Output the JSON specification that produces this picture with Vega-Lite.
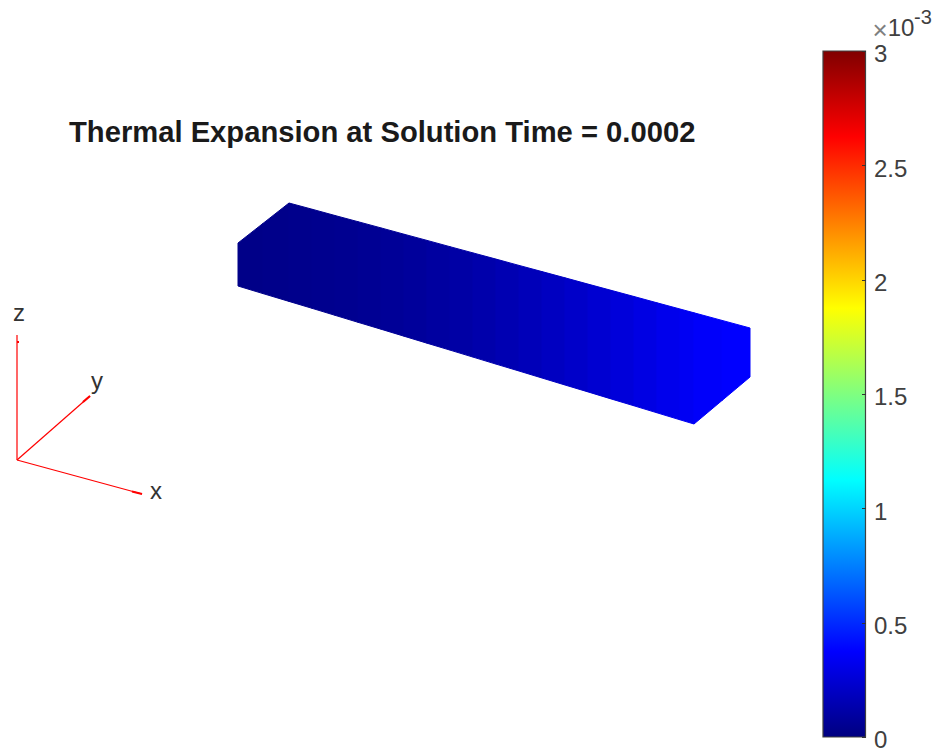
{
"$schema":"https://vega.github.io/schema/vega-lite/v6.json",
"width":933,"height":749,"padding":0,"autosize":{"type":"none"},
"background":"white",
"view":{"stroke":null},
"config":{"font":"Liberation Sans"},
"title":{"text":"Thermal Expansion at Solution Time = 0.0002","anchor":"start","frame":"group","dx":69,"dy":171,"offset":0,"baseline":"alphabetic","font":"Liberation Sans","fontSize":29.2,"fontWeight":"bold","color":"#1a1a1a"},
"datasets":{
"body":[
{"s":1,"x":238,"top":243,"bot":286,"u":0.024},{"s":1,"x":263,"top":223.4,"bot":293.6,"u":0.024},
{"s":2,"x":263,"top":223.4,"bot":293.6,"u":0.03},{"s":2,"x":289,"top":203,"bot":301.4,"u":0.03},
{"s":3,"x":289,"top":203,"bot":301.4,"u":0.035},{"s":3,"x":312,"top":209.2,"bot":308.3,"u":0.035},
{"s":4,"x":312,"top":209.2,"bot":308.3,"u":0.041},{"s":4,"x":335,"top":215.5,"bot":315.3,"u":0.041},
{"s":5,"x":335,"top":215.5,"bot":315.3,"u":0.047},{"s":5,"x":358,"top":221.7,"bot":322.3,"u":0.047},
{"s":6,"x":358,"top":221.7,"bot":322.3,"u":0.056},{"s":6,"x":381,"top":227.9,"bot":329.2,"u":0.056},
{"s":7,"x":381,"top":227.9,"bot":329.2,"u":0.068},{"s":7,"x":404,"top":234.2,"bot":336.2,"u":0.068},
{"s":8,"x":404,"top":234.2,"bot":336.2,"u":0.08},{"s":8,"x":427,"top":240.4,"bot":343.2,"u":0.08},
{"s":9,"x":427,"top":240.4,"bot":343.2,"u":0.094},{"s":9,"x":450,"top":246.7,"bot":350.1,"u":0.094},
{"s":10,"x":450,"top":246.7,"bot":350.1,"u":0.109},{"s":10,"x":473,"top":252.9,"bot":357.1,"u":0.109},
{"s":11,"x":473,"top":252.9,"bot":357.1,"u":0.127},{"s":11,"x":496,"top":259.1,"bot":364.1,"u":0.127},
{"s":12,"x":496,"top":259.1,"bot":364.1,"u":0.148},{"s":12,"x":519,"top":265.4,"bot":371,"u":0.148},
{"s":13,"x":519,"top":265.4,"bot":371,"u":0.168},{"s":13,"x":542,"top":271.6,"bot":378,"u":0.168},
{"s":14,"x":542,"top":271.6,"bot":378,"u":0.192},{"s":14,"x":565,"top":277.8,"bot":385,"u":0.192},
{"s":15,"x":565,"top":277.8,"bot":385,"u":0.216},{"s":15,"x":588,"top":284.1,"bot":391.9,"u":0.216},
{"s":16,"x":588,"top":284.1,"bot":391.9,"u":0.239},{"s":16,"x":611,"top":290.3,"bot":398.9,"u":0.239},
{"s":17,"x":611,"top":290.3,"bot":398.9,"u":0.266},{"s":17,"x":634,"top":296.5,"bot":405.8,"u":0.266},
{"s":18,"x":634,"top":296.5,"bot":405.8,"u":0.292},{"s":18,"x":657,"top":302.8,"bot":412.8,"u":0.292},
{"s":19,"x":657,"top":302.8,"bot":412.8,"u":0.319},{"s":19,"x":680,"top":309,"bot":419.8,"u":0.319},
{"s":20,"x":680,"top":309,"bot":419.8,"u":0.34},{"s":20,"x":694,"top":312.8,"bot":424,"u":0.34},
{"s":21,"x":694,"top":312.8,"bot":424,"u":0.36},{"s":21,"x":722,"top":320.4,"bot":400.5,"u":0.36},
{"s":22,"x":722,"top":320.4,"bot":400.5,"u":0.375},{"s":22,"x":750,"top":328,"bot":377,"u":0.375}
]
},
"resolve":{"scale":{"y":"independent"}},
"layer":[
{"data":{"name":"body"},
 "mark":{"type":"area","strokeWidth":1,"interpolate":"linear"},
 "encoding":{
  "x":{"field":"x","type":"quantitative","axis":null,"scale":{"domain":[0,933],"nice":false,"zero":false}},
  "y":{"field":"top","type":"quantitative","axis":null,"scale":{"domain":[749,0],"nice":false,"zero":false}},
  "y2":{"field":"bot"},
  "detail":{"field":"s","type":"nominal"},
  "fill":{"field":"u","type":"quantitative","legend":null,"scale":{"domain":[0,0.375,1.125,1.875,2.625,3],"range":["#000080","#0000ff","#00ffff","#ffff00","#ff0000","#800000"],"interpolate":"rgb"}},
  "stroke":{"field":"u","type":"quantitative","legend":null,"scale":{"domain":[0,0.375,1.125,1.875,2.625,3],"range":["#000080","#0000ff","#00ffff","#ffff00","#ff0000","#800000"],"interpolate":"rgb"}}
 }},
{"data":{"values":[
  {"a":"x","x0":17,"y0":460,"x1":142,"y1":494},
  {"a":"y","x0":17,"y0":460,"x1":90,"y1":396},
  {"a":"z","x0":17,"y0":460,"x1":17,"y1":335}]},
 "mark":{"type":"rule","color":"#ff0000","strokeWidth":1.2},
 "encoding":{
  "x":{"field":"x0","type":"quantitative","axis":null,"scale":{"domain":[0,933],"nice":false,"zero":false}},
  "y":{"field":"y0","type":"quantitative","axis":null,"scale":{"domain":[749,0],"nice":false,"zero":false}},
  "x2":{"field":"x1"},"y2":{"field":"y1"}}},
{"data":{"values":[
  {"a":"x","x0":132,"y0":491.5,"x1":142,"y1":494},
  {"a":"y","x0":83,"y0":402,"x1":90,"y1":396},
  {"a":"z","x0":17,"y0":342,"x1":19,"y1":342}]},
 "mark":{"type":"rule","color":"#ff0000","strokeWidth":2.2},
 "encoding":{
  "x":{"field":"x0","type":"quantitative","axis":null,"scale":{"domain":[0,933],"nice":false,"zero":false}},
  "y":{"field":"y0","type":"quantitative","axis":null,"scale":{"domain":[749,0],"nice":false,"zero":false}},
  "x2":{"field":"x1"},"y2":{"field":"y1"}}},
{"data":{"values":[
  {"t":"z","x":19,"y":314},{"t":"y","x":97,"y":382},{"t":"x","x":156,"y":492}]},
 "mark":{"type":"text","fontSize":24,"color":"#333333","baseline":"middle","align":"center","font":"Liberation Sans"},
 "encoding":{
  "x":{"field":"x","type":"quantitative","axis":null,"scale":{"domain":[0,933],"nice":false,"zero":false}},
  "y":{"field":"y","type":"quantitative","axis":null,"scale":{"domain":[749,0],"nice":false,"zero":false}},
  "text":{"field":"t"}}},
{"data":{"values":[{"v0":0,"v1":3}]},
 "mark":{"type":"rect","stroke":"#404040","strokeWidth":1.2,
  "fill":{"gradient":"linear","x1":0,"y1":1,"x2":0,"y2":0,"stops":[
   {"offset":0,"color":"#000080"},{"offset":0.125,"color":"#0000ff"},{"offset":0.375,"color":"#00ffff"},{"offset":0.625,"color":"#ffff00"},{"offset":0.875,"color":"#ff0000"},{"offset":1,"color":"#800000"}]}},
 "encoding":{
  "x":{"datum":823,"type":"quantitative","axis":null,"scale":{"domain":[0,933],"nice":false,"zero":false}},
  "x2":{"datum":865.5},
  "y":{"field":"v0","type":"quantitative","scale":{"domain":[-0.0525,3.223],"nice":false,"zero":false},
   "axis":{"orient":"right","offset":-67.5,"title":null,"values":[0,0.5,1,1.5,2,2.5,3],"format":"~r","domain":false,"grid":false,"tickSize":-4,"tickColor":"#333333","tickWidth":1,"labelFontSize":24,"labelColor":"#404040","labelPadding":12,"labelOffset":4,"labelFlush":false,"labelOverlap":false,"labelFont":"Liberation Sans","zindex":1}},
  "y2":{"field":"v1"}}},
{"data":{"values":[{"t":"×","x":880,"y":31}]},
 "mark":{"type":"text","fontSize":26,"color":"#808080","baseline":"middle","align":"center","font":"Liberation Sans"},
 "encoding":{
  "x":{"field":"x","type":"quantitative","axis":null,"scale":{"domain":[0,933],"nice":false,"zero":false}},
  "y":{"field":"y","type":"quantitative","axis":null,"scale":{"domain":[749,0],"nice":false,"zero":false}},
  "text":{"field":"t"}}},
{"data":{"values":[{"t":"10","x":901,"y":29}]},
 "mark":{"type":"text","fontSize":24,"color":"#404040","baseline":"middle","align":"center","font":"Liberation Sans"},
 "encoding":{
  "x":{"field":"x","type":"quantitative","axis":null,"scale":{"domain":[0,933],"nice":false,"zero":false}},
  "y":{"field":"y","type":"quantitative","axis":null,"scale":{"domain":[749,0],"nice":false,"zero":false}},
  "text":{"field":"t"}}},
{"data":{"values":[{"t":"-3","x":923,"y":18}]},
 "mark":{"type":"text","fontSize":20,"color":"#404040","baseline":"middle","align":"center","font":"Liberation Sans"},
 "encoding":{
  "x":{"field":"x","type":"quantitative","axis":null,"scale":{"domain":[0,933],"nice":false,"zero":false}},
  "y":{"field":"y","type":"quantitative","axis":null,"scale":{"domain":[749,0],"nice":false,"zero":false}},
  "text":{"field":"t"}}}
]
}
